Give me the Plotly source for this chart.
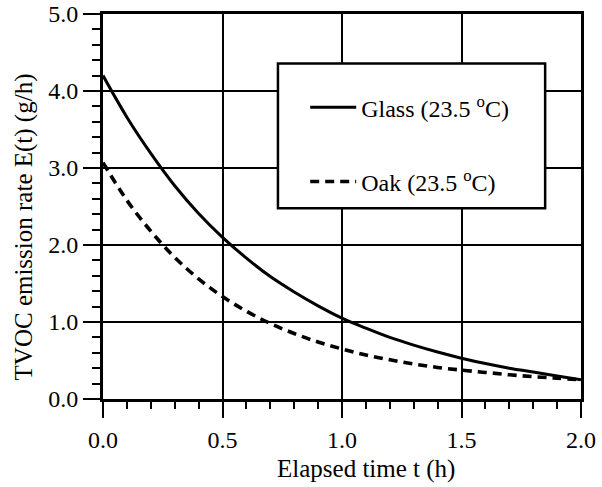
import plotly.graph_objects as go

# Elapsed time (h) and TVOC emission rate E(t) (g/h) for the two surfaces
elapsed_h = [0.0, 0.1, 0.2, 0.3, 0.4, 0.5, 0.6, 0.7, 0.8, 0.9, 1.0,
             1.1, 1.2, 1.3, 1.4, 1.5, 1.6, 1.7, 1.8, 1.9, 2.0]
glass_rate = [4.20, 3.66, 3.19, 2.77, 2.41, 2.10, 1.83, 1.59, 1.39, 1.21, 1.05,
              0.92, 0.80, 0.70, 0.61, 0.53, 0.46, 0.40, 0.35, 0.30, 0.25]
oak_rate = [3.07, 2.58, 2.18, 1.84, 1.56, 1.33, 1.14, 0.98, 0.85, 0.74, 0.65,
            0.57, 0.51, 0.455, 0.41, 0.375, 0.345, 0.315, 0.29, 0.27, 0.25]

series_names = ["Glass (23.5 <sup>o</sup>C)", "Oak (23.5 <sup>o</sup>C)"]
x_ticks = [0.0, 0.5, 1.0, 1.5, 2.0]
x_ticklabels = ["0.0", "0.5", "1.0", "1.5", "2.0"]
y_ticks = [0.0, 1.0, 2.0, 3.0, 4.0, 5.0]
y_ticklabels = ["0.0", "1.0", "2.0", "3.0", "4.0", "5.0"]
x_title = "Elapsed time t (h)"
y_title = "TVOC emission rate E(t) (g/h)"

FONT = "Times New Roman, Liberation Serif, serif"

fig = go.Figure()
fig.add_trace(go.Scatter(
    x=elapsed_h, y=glass_rate, name=series_names[0], mode="lines",
    line=dict(color="black", width=3, shape="spline"),
    legendgroup="g1",
))
fig.add_trace(go.Scatter(
    x=elapsed_h, y=oak_rate, name=series_names[1], mode="lines",
    line=dict(color="black", width=3.6, dash="9px,6px", shape="spline"),
    legendgroup="g2",
))

# white legend frame drawn over the grid
fig.add_shape(
    type="rect", xref="paper", yref="paper",
    x0=0.366, x1=0.925, y0=0.4955, y1=0.8716,
    line=dict(color="black", width=2.5), fillcolor="white", layer="above",
)

fig.add_annotation(
    text=x_title, xref="paper", yref="paper", x=0.55, y=-0.182,
    xanchor="center", yanchor="middle", showarrow=False,
    font=dict(family=FONT, size=25, color="black"),
)
fig.add_annotation(
    text=y_title, xref="paper", yref="paper", x=-0.165, y=0.446,
    xanchor="center", yanchor="middle", showarrow=False, textangle=-90,
    font=dict(family=FONT, size=25, color="black"),
)

fig.update_xaxes(
    range=[0, 2], tickvals=x_ticks, ticktext=x_ticklabels, automargin=False,
    showline=True, linecolor="black", linewidth=2.5, mirror=True,
    showgrid=True, gridcolor="black", gridwidth=1.8, zeroline=False,
    ticks="outside", ticklen=16, tickwidth=2, tickcolor="black",
    ticklabelstandoff=1,
    tickfont=dict(family=FONT, size=24, color="black"),
    minor=dict(dtick=0.1, ticks="outside", ticklen=7, tickwidth=2,
               tickcolor="black", showgrid=False),
)
fig.update_yaxes(
    range=[0, 5], tickvals=y_ticks, ticktext=y_ticklabels, automargin=False,
    showline=True, linecolor="black", linewidth=3, mirror=True,
    showgrid=True, gridcolor="black", gridwidth=1.8, zeroline=False,
    ticks="outside", ticklen=17, tickwidth=2, tickcolor="black",
    ticklabelstandoff=0,
    tickfont=dict(family=FONT, size=24, color="black"),
    minor=dict(dtick=0.2, ticks="outside", ticklen=8, tickwidth=2,
               tickcolor="black", showgrid=False),
)

fig.update_layout(
    width=602, height=487,
    margin=dict(l=103, r=21, t=14, b=88),
    paper_bgcolor="white", plot_bgcolor="white",
    font=dict(family=FONT, size=24, color="black"),
    showlegend=True,
    legend=dict(
        x=0.423, y=0.815, xanchor="left", yanchor="top",
        bgcolor="rgba(0,0,0,0)", borderwidth=0,
        font=dict(family=FONT, size=24, color="black"),
        tracegroupgap=40, traceorder="grouped", itemwidth=46,
    ),
)

fig.write_html("out.html")
